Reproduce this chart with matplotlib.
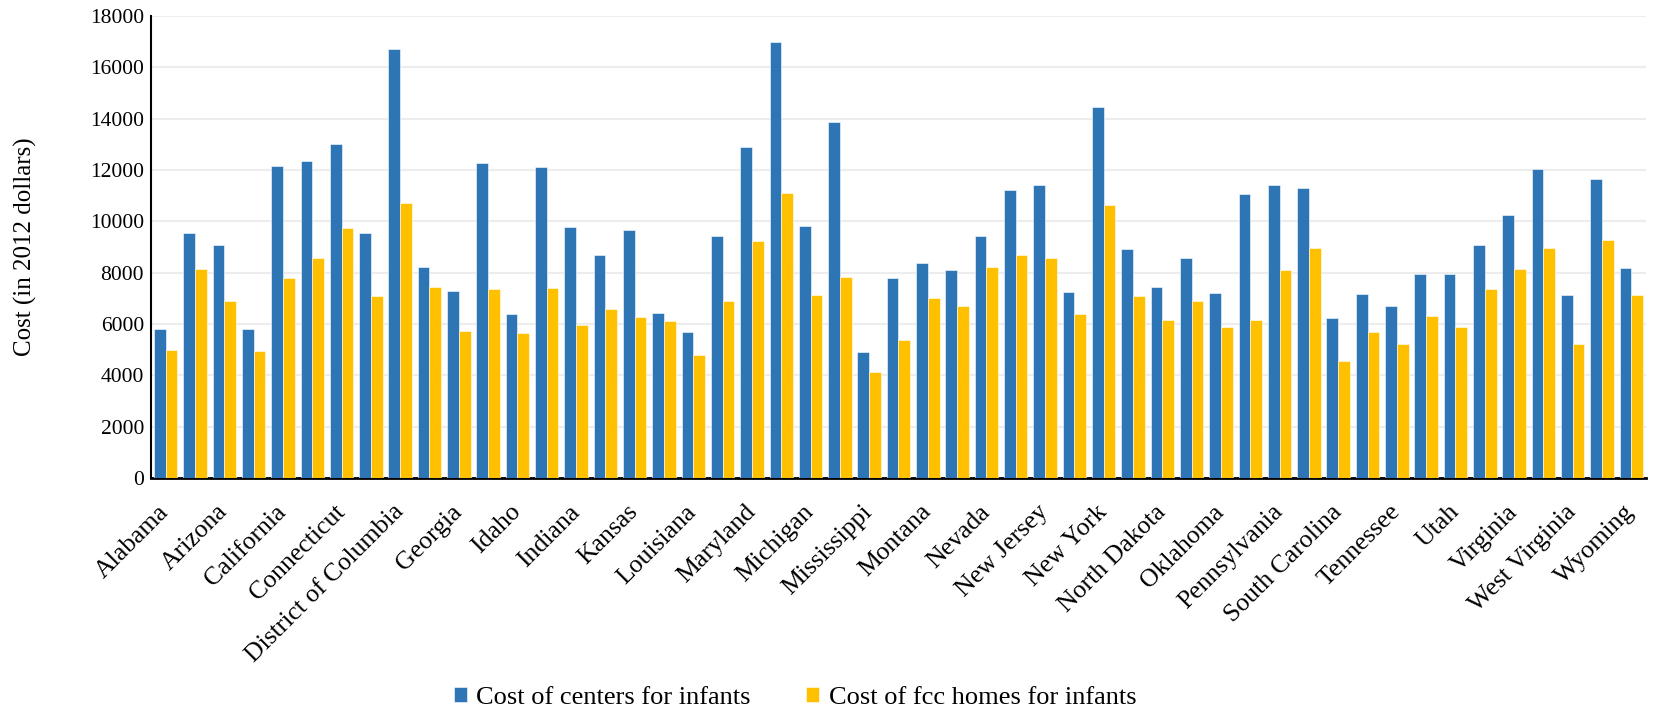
import matplotlib
matplotlib.use("Agg")
import matplotlib.pyplot as plt
import numpy as np

states = ["Alabama", "Alaska", "Arizona", "Arkansas", "California", "Colorado", "Connecticut",
          "Delaware", "District of Columbia", "Florida", "Georgia", "Hawaii", "Idaho", "Illinois",
          "Indiana", "Iowa", "Kansas", "Kentucky", "Louisiana", "Maine", "Maryland", "Massachusetts",
          "Michigan", "Minnesota", "Mississippi", "Missouri", "Montana", "Nebraska", "Nevada",
          "New Hampshire", "New Jersey", "New Mexico", "New York", "North Carolina", "North Dakota",
          "Ohio", "Oklahoma", "Oregon", "Pennsylvania", "Rhode Island", "South Carolina",
          "South Dakota", "Tennessee", "Texas", "Utah", "Vermont", "Virginia", "Washington",
          "West Virginia", "Wisconsin", "Wyoming"]

centers = [5820, 9530, 9060, 5790, 12140, 12350, 13000, 9530, 16700, 8240, 7290, 12260, 6390, 12110,
           9760, 8670, 9670, 6430, 5690, 9410, 12900, 17000, 9800, 13860, 4910, 7790, 8380, 8100,
           9410, 11230, 11430, 7230, 14440, 8930, 7460, 8580, 7210, 11070, 11410, 11310, 6250,
           7150, 6720, 7930, 7930, 9090, 10230, 12020, 7140, 11630, 8190]

fcc_homes = [4970, 8160, 6900, 4930, 7810, 8590, 9750, 7110, 10710, 7460, 5730, 7380, 5630, 7410,
             5950, 6600, 6290, 6100, 4800, 6910, 9230, 11110, 7140, 7840, 4130, 5390, 7020, 6720,
             8240, 8700, 8590, 6390, 10650, 7080, 6170, 6910, 5890, 6140, 8120, 8980, 4540,
             5670, 5240, 6330, 5890, 7380, 8160, 8980, 5210, 9290, 7140]

series_names = ["Cost of centers for infants", "Cost of fcc homes for infants"]
y_ticks = [0, 2000, 4000, 6000, 8000, 10000, 12000, 14000, 16000, 18000]

blue = "#2E75B6"
gold = "#FFC000"

plt.rcParams['font.family'] = ['Liberation Serif', 'DejaVu Serif']

fig = plt.figure(figsize=(16.54, 7.15), dpi=100)
ax = fig.add_axes([151/1654, 1 - 478/715, (1646 - 151)/1654, (478 - 16)/715])

x = np.arange(len(states))
w = 0.4
b1 = ax.bar(x - w/2, centers, width=w, color=blue, edgecolor="white", linewidth=0.4,
            label=series_names[0], zorder=3)
b2 = ax.bar(x + w/2, fcc_homes, width=w, color=gold, edgecolor="white", linewidth=0.4,
            label=series_names[1], zorder=3)

ax.set_xlim(-0.5, len(states) - 0.5)
ax.set_ylim(0, 18000)
ax.set_yticks(y_ticks)
ax.set_yticklabels([str(v) for v in y_ticks])
ax.yaxis.grid(True, color="#EDEDED", linewidth=1.5, zorder=0)
ax.set_axisbelow(True)

ax.set_xticks(x[::2])
ax.set_xticklabels(states[::2], rotation=45, ha="right", va="center",
                   rotation_mode="anchor")
ax.tick_params(axis="x", length=0, pad=22, labelsize=18.5)
ax.tick_params(axis="y", length=0, pad=5, labelsize=15.5)

for s in ["top", "right"]:
    ax.spines[s].set_visible(False)
ax.spines["left"].set_linewidth(1.5)
ax.spines["left"].set_color("black")
ax.spines["bottom"].set_linewidth(2)
ax.spines["bottom"].set_color("black")

ax.set_ylabel("Cost (in 2012 dollars)", fontsize=18)
ax.yaxis.set_label_coords(-0.076, 0.5)

fig.legend(handles=[b1, b2], labels=series_names, loc="center",
           bbox_to_anchor=(795/1654, 1 - 698/715), ncol=2, frameon=False,
           fontsize=19, handlelength=0.5, handleheight=0.5, handletextpad=0.36,
           columnspacing=2.1)

fig.savefig("out.png", dpi=100)
